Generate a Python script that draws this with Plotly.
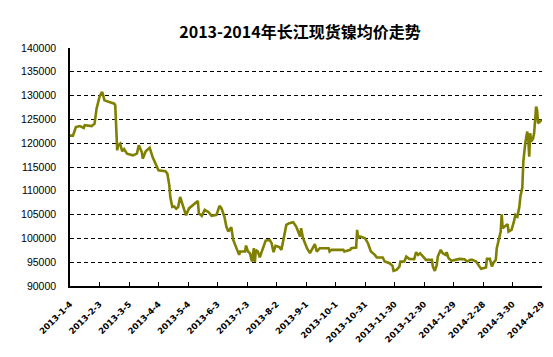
import pandas as pd
import plotly.graph_objects as go

title = "2013-2014年长江现货镍均价走势"
start_date = "2013-01-04"

# day offsets from 2013-01-04 and price values (yuan/ton)
day_offsets = [0, 3, 6, 10, 14, 15, 22, 25, 27, 30, 32, 33, 35, 41, 45, 46, 47, 48, 49, 51,
               53, 55, 58, 64, 68, 70, 73, 74, 77, 81, 84, 87, 90, 97, 99, 101, 102, 104, 106, 108,
               110, 112, 114, 116, 118, 121, 125, 128, 130, 131, 134, 137, 141, 144, 149, 152, 154, 157, 159, 161,
               163, 164, 166, 168, 170, 172, 173, 178, 179, 181, 183, 185, 187, 188, 189, 191, 193, 195, 196, 199,
               203, 205, 207, 209, 213, 215, 217, 220, 223, 227, 230, 232, 234, 235, 237, 239, 241, 244, 246, 249,
               251, 254, 263, 264, 266, 278, 279, 285, 286, 291, 292, 293, 295, 300, 303, 306, 310, 312, 318, 320,
               325, 328, 329, 332, 335, 336, 340, 342, 345, 350, 352, 354, 356, 358, 362, 368, 369, 371, 373, 374,
               377, 379, 382, 383, 385, 388, 396, 401, 404, 407, 409, 413, 415, 418, 423, 424, 427, 429, 431, 433,
               434, 436, 438, 439, 440, 442, 444, 445, 446, 449, 451, 453, 455, 457, 458, 460, 461, 462, 463, 465,
               466, 467, 468, 469, 471, 472, 473, 474, 475, 476, 478, 480]
prices = [121600, 121600, 123400, 123600, 123200, 123800, 123600, 124100, 127250, 129700, 130600, 130600, 129000, 128650, 128300, 128000, 123050, 118500, 119550, 119900,
          118300, 118750, 117800, 117450, 117800, 119550, 118150, 116750, 118300, 119050, 117100, 115500, 114300, 114100, 113600, 111150, 108700, 106600, 106700, 106250,
          106600, 108700, 107300, 105900, 104850, 106300, 107040, 107600, 107880, 105290, 104730, 105990, 105500, 104730, 104940, 106830, 106340, 104590, 102490, 101440,
          102140, 102350, 99690, 98640, 97940, 96540, 97240, 97240, 98500, 97240, 96890, 95140, 97940, 95000, 97590, 97240, 96050, 97240, 98080, 99550,
          99690, 98990, 97100, 98430, 98150, 97590, 99690, 102840, 103190, 103400, 102490, 101580, 100390, 102140, 100040, 98990, 97940, 96890, 97590, 98780,
          97240, 97940, 97940, 97240, 97590, 97590, 97240, 97590, 97940, 98080, 101790, 100040, 100390, 100040, 98990, 97240, 96540, 95980, 95980, 95140,
          94790, 94230, 93180, 93390, 94090, 95140, 95140, 96190, 95700, 95630, 97100, 96540, 96890, 96400, 95490, 95490, 94090, 93180, 94440, 96190,
          97590, 96890, 96540, 97100, 95840, 95280, 95700, 95630, 95140, 95490, 95490, 95140, 94440, 93600, 93880, 95700, 95700, 94090, 95000, 95490,
          97940, 99690, 101440, 105080, 102140, 102490, 102840, 102980, 101440, 101790, 103190, 104940, 104590, 106690, 108790, 110680, 116140, 118240, 119990, 122440,
          121040, 117190, 122090, 120340, 121040, 122090, 124540, 127690, 126990, 124190, 124540, 124890]

tick_labels = ["2013-1-4", "2013-2-3", "2013-3-5", "2013-4-4", "2013-5-4", "2013-6-3",
               "2013-7-3", "2013-8-2", "2013-9-1", "2013-10-1", "2013-10-31", "2013-11-30",
               "2013-12-30", "2014-1-29", "2014-2-28", "2014-3-30", "2014-4-29"]

y_min, y_max, y_step = 90000, 140000, 5000

base = pd.Timestamp(start_date)
dates = [base + pd.Timedelta(days=d) for d in day_offsets]
tick_dates = [pd.Timestamp(f"{s.split('-')[0]}-{int(s.split('-')[1]):02d}-{int(s.split('-')[2]):02d}") for s in tick_labels]

fig = go.Figure()
fig.add_trace(go.Scatter(x=dates, y=prices, mode="lines",
                         line=dict(color="#808000", width=2.6), showlegend=False))

fig.update_layout(
    width=553, height=357,
    margin=dict(l=62, r=19, t=40, b=79),
    paper_bgcolor="white", plot_bgcolor="white",
    title=dict(text="<b>" + title + "</b>", x=0.528, xanchor="center", y=0.931, yanchor="middle",
               font=dict(family="Noto Sans CJK SC", size=16, color="black")),
    xaxis=dict(range=[tick_dates[0], tick_dates[-1]], tickvals=tick_dates, ticktext=tick_labels,
               tickangle=-45, tickfont=dict(family="DejaVu Sans", size=8.5, color="black", weight="bold"),
               ticklabelstandoff=8,
               showgrid=False, showline=True, linecolor="black", linewidth=1.5,
               ticks="inside", ticklen=4, tickcolor="black", zeroline=False),
    yaxis=dict(range=[y_min, y_max], dtick=y_step, tick0=y_min, tickformat="d",
               tickfont=dict(family="Liberation Sans", size=10.5, color="black"),
               ticklabelstandoff=10,
               showgrid=True, gridcolor="black", griddash="4px,3px", gridwidth=1,
               showline=True, linecolor="black", linewidth=1.5, ticks="", zeroline=False),
)

fig.write_html("out.html")
